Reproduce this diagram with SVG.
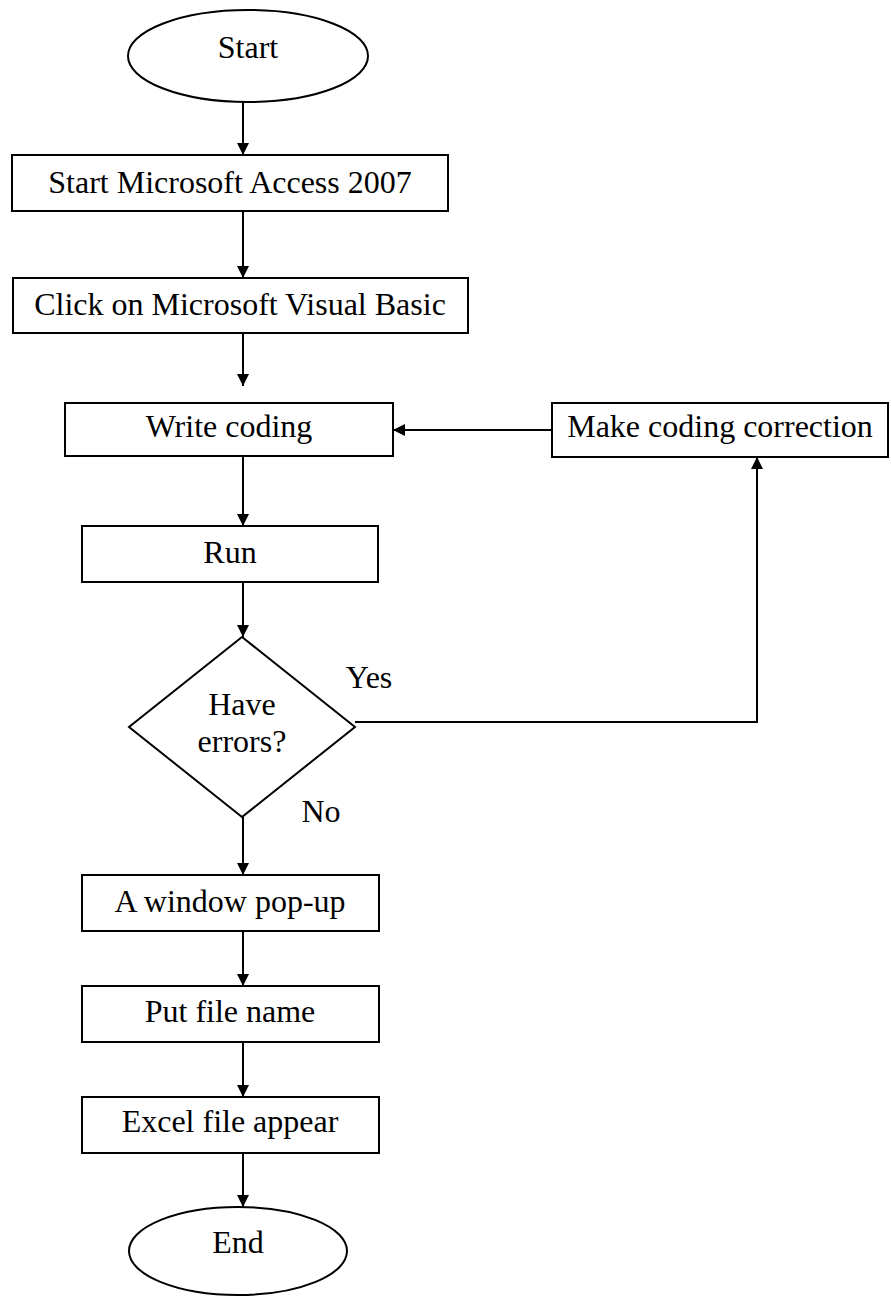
<svg xmlns="http://www.w3.org/2000/svg" width="891" height="1303" viewBox="0 0 891 1303">
<defs>
<style>
.n{fill:#fff;stroke:#000;stroke-width:2}
.c{fill:none;stroke:#000;stroke-width:2}
</style>
<marker id="a" viewBox="0 0 10 10" refX="10" refY="5" markerWidth="12" markerHeight="12" orient="auto" markerUnits="userSpaceOnUse">
<path d="M0,0 L10,5 L0,10 z" fill="#000"/>
</marker>
</defs>
<rect width="891" height="1303" fill="#fff"/>
<g font-family="Liberation Serif, Times New Roman, serif" font-size="32" fill="#000" text-anchor="middle">
<g id="connectors">
<line class="c" x1="243" y1="102" x2="243" y2="155" marker-end="url(#a)"/>
<line class="c" x1="243" y1="211" x2="243" y2="278" marker-end="url(#a)"/>
<line class="c" x1="243" y1="333" x2="243" y2="386" marker-end="url(#a)"/>
<line class="c" x1="552" y1="430" x2="393" y2="430" marker-end="url(#a)"/>
<line class="c" x1="243" y1="456" x2="243" y2="526" marker-end="url(#a)"/>
<line class="c" x1="243" y1="582" x2="243" y2="637" marker-end="url(#a)"/>
<polyline class="c" points="355,722 757,722 757,457" marker-end="url(#a)"/>
<line class="c" x1="243" y1="817" x2="243" y2="875" marker-end="url(#a)"/>
<line class="c" x1="243" y1="931" x2="243" y2="986" marker-end="url(#a)"/>
<line class="c" x1="243" y1="1042" x2="243" y2="1097" marker-end="url(#a)"/>
<line class="c" x1="243" y1="1153" x2="243" y2="1207" marker-end="url(#a)"/>
<text x="369" y="688">Yes</text>
<text x="321" y="822">No</text>
</g>
<g id="start"><ellipse class="n" cx="248" cy="56" rx="120" ry="46"/><text x="248" y="58">Start</text></g>
<g id="access"><rect class="n" x="12" y="155" width="436" height="56"/><text x="230" y="193">Start Microsoft Access 2007</text></g>
<g id="vb"><rect class="n" x="13" y="278" width="455" height="55"/><text x="240" y="315">Click on Microsoft Visual Basic</text></g>
<g id="write"><rect class="n" x="65" y="403" width="328" height="53"/><text x="229" y="437">Write coding</text></g>
<g id="correct"><rect class="n" x="552" y="403" width="336" height="54"/><text x="720" y="437">Make coding correction</text></g>
<g id="run"><rect class="n" x="82" y="526" width="296" height="56"/><text x="230" y="563">Run</text></g>
<g id="decision"><polygon class="n" points="242,637 355,727 242,817 129,727"/><text x="242" y="715">Have</text><text x="242" y="752">errors?</text></g>
<g id="popup"><rect class="n" x="82" y="875" width="297" height="56"/><text x="230" y="912">A window pop-up</text></g>
<g id="filename"><rect class="n" x="82" y="986" width="297" height="56"/><text x="230" y="1022">Put file name</text></g>
<g id="excel"><rect class="n" x="82" y="1097" width="297" height="56"/><text x="230" y="1132">Excel file appear</text></g>
<g id="end"><ellipse class="n" cx="238" cy="1251" rx="109" ry="44"/><text x="238" y="1253">End</text></g>
</g>
</svg>
